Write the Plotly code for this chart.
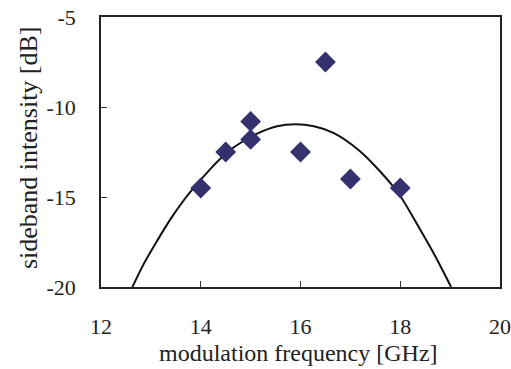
import plotly.graph_objects as go

# measured data points
freq_ghz = [14.0, 14.5, 15.0, 15.0, 16.0, 16.5, 17.0, 18.0]
intensity_db = [-14.5, -12.5, -10.8, -11.8, -12.5, -7.5, -14.0, -14.5]

# fitted curve, points
curve_x = [12.63, 12.86, 13.13, 13.40, 13.66, 13.93, 14.20, 14.43, 14.67, 15.13, 15.53,
           15.90, 16.27, 16.67, 17.17, 17.57, 17.97, 18.37, 18.71, 19.02]
curve_y = [-20.0, -18.70, -17.41, -16.20, -15.18, -14.26, -13.42, -12.78, -12.22, -11.48, -11.07,
           -10.96, -11.07, -11.45, -12.40, -13.50, -14.82, -16.67, -18.33, -20.0]

x_ticks = [12, 14, 16, 18, 20]
y_ticks = [-20, -15, -10, -5]

x_title = "modulation frequency [GHz]"
y_title = "sideband intensity [dB]"

FONT = "Liberation Serif, Times New Roman, serif"
FS = 22

fig = go.Figure()
fig.add_trace(go.Scatter(
    x=curve_x, y=curve_y, mode="lines",
    line=dict(color="#111111", width=2, shape="spline", smoothing=0.9),
    showlegend=False, hoverinfo="skip",
))
fig.add_trace(go.Scatter(
    x=freq_ghz, y=intensity_db, mode="markers",
    marker=dict(symbol="diamond", size=16, color="#35306e", line=dict(width=0)),
    showlegend=False,
))

fig.update_layout(
    width=511, height=369,
    margin=dict(l=101, r=11, t=17, b=82),
    paper_bgcolor="white", plot_bgcolor="white",
    font=dict(family=FONT, size=FS, color="#222222"),
)
fig.update_xaxes(
    range=[12, 20], tickvals=x_ticks, ticktext=[str(v) for v in x_ticks],
    ticks="inside", ticklen=6, tickwidth=1, tickcolor="#333333",
    showline=True, linecolor="#222222", linewidth=1.5, mirror=True,
    showgrid=False, zeroline=False, automargin=False,
    ticklabelstandoff=19, ticklabeloverflow="allow",
)
fig.update_yaxes(
    range=[-20, -5], tickvals=y_ticks, ticktext=[str(v) for v in y_ticks],
    ticks="inside", ticklen=6, tickwidth=1, tickcolor="#333333",
    showline=True, linecolor="#222222", linewidth=1.5, mirror=True,
    showgrid=False, zeroline=False, automargin=False,
    ticklabelstandoff=19, ticklabeloverflow="allow",
)
fig.add_annotation(
    text=x_title, xref="paper", yref="paper", x=0.495, y=-0.246,
    xanchor="center", yanchor="middle", showarrow=False,
    font=dict(family=FONT, size=24, color="#222222"),
)
fig.add_annotation(
    text=y_title, xref="paper", yref="paper", x=-0.183, y=0.518,
    xanchor="center", yanchor="middle", showarrow=False, textangle=-90,
    font=dict(family=FONT, size=26, color="#222222"),
)

fig.write_html(
    "out.html",
    config={"displayModeBar": False},
    post_script="document.body.style.margin='0';document.body.style.overflow='hidden';",
)
